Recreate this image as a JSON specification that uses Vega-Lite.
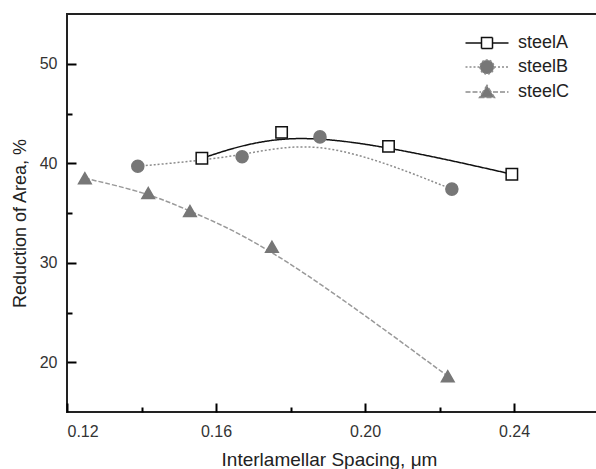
{
  "$schema": "https://vega.github.io/schema/vega-lite/v6.json",
  "autosize": "none",
  "padding": {"left": 67, "top": 14, "right": 0, "bottom": 57},
  "width": 535,
  "height": 398,
  "background": "white",
  "config": {
    "view": {"stroke": "#222", "strokeWidth": 2},
    "font": "Liberation Sans",
    "axis": {
      "grid": false,
      "domain": false,
      "tickColor": "black",
      "tickWidth": 2,
      "labelFont": "Liberation Sans",
      "labelFontSize": 16,
      "labelColor": "#333",
      "titleFont": "Liberation Sans",
      "titleFontSize": 19,
      "titleFontWeight": "normal",
      "titleColor": "#222"
    }
  },
  "data": {
    "values": [
      {"steel": "steelA", "spacing": 0.1562, "ra": 40.5},
      {"steel": "steelA", "spacing": 0.1776, "ra": 43.1},
      {"steel": "steelA", "spacing": 0.2063, "ra": 41.7},
      {"steel": "steelA", "spacing": 0.2394, "ra": 38.9},
      {"steel": "steelB", "spacing": 0.139, "ra": 39.7},
      {"steel": "steelB", "spacing": 0.167, "ra": 40.65},
      {"steel": "steelB", "spacing": 0.1879, "ra": 42.65},
      {"steel": "steelB", "spacing": 0.2233, "ra": 37.4},
      {"steel": "steelC", "spacing": 0.1248, "ra": 38.5},
      {"steel": "steelC", "spacing": 0.1418, "ra": 37.0},
      {"steel": "steelC", "spacing": 0.153, "ra": 35.2},
      {"steel": "steelC", "spacing": 0.175, "ra": 31.6},
      {"steel": "steelC", "spacing": 0.2222, "ra": 18.6}
    ]
  },
  "layer": [
    {
      "mark": {"type": "line", "interpolate": "basis", "strokeWidth": 1.5},
      "encoding": {
        "x": {
          "field": "spacing", "type": "quantitative",
          "scale": {"domain": [0.12, 0.2636], "nice": false, "zero": false},
          "axis": {
            "orient": "bottom",
            "title": "Interlamellar Spacing, μm",
            "values": [0.12, 0.16, 0.2, 0.24],
            "format": ".2f",
            "tickSize": 9,
            "offset": -9,
            "labelPadding": 11,
            "titleX": 262,
            "titleY": 62,
            "titleBaseline": "alphabetic",
            "titleAlign": "center"
          }
        },
        "y": {
          "field": "ra", "type": "quantitative",
          "scale": {"domain": [15, 55], "nice": false, "zero": false},
          "axis": {
            "orient": "left",
            "title": "Reduction of Area, %",
            "titleFontSize": 18,
            "values": [20, 30, 40, 50],
            "tickSize": 9,
            "offset": -9,
            "labelPadding": 10,
            "titleX": -51,
            "titleY": 209,
            "titleAngle": -90,
            "titleBaseline": "alphabetic",
            "titleAlign": "center"
          }
        },
        "detail": {"field": "steel"},
        "stroke": {"field": "steel", "type": "nominal", "legend": null,
          "scale": {"domain": ["steelA", "steelB", "steelC"], "range": ["#111111", "#8c8c8c", "#999999"]}},
        "strokeDash": {"field": "steel", "type": "nominal", "legend": null,
          "scale": {"domain": ["steelA", "steelB", "steelC"], "range": [[1, 0], [2, 2], [5, 2]]}}
      }
    },
    {
      "mark": {"type": "point", "opacity": 1, "strokeWidth": 1.5},
      "encoding": {
        "x": {
          "field": "spacing", "type": "quantitative",
          "axis": {"orient": "bottom", "values": [0.14, 0.18, 0.22], "tickSize": 5, "offset": -5,
            "labels": false, "title": null}
        },
        "y": {
          "field": "ra", "type": "quantitative",
          "axis": {"orient": "left", "values": [25, 35, 45], "tickSize": 5, "offset": -5,
            "labels": false, "title": null}
        },
        "shape": {"field": "steel", "type": "nominal", "legend": null,
          "scale": {"domain": ["steelA", "steelB", "steelC"], "range": ["square", "circle", "triangle-up"]}},
        "size": {"field": "steel", "type": "nominal", "legend": null,
          "scale": {"domain": ["steelA", "steelB", "steelC"], "range": [130, 160, 200]}},
        "fill": {"field": "steel", "type": "nominal", "legend": null,
          "scale": {"domain": ["steelA", "steelB", "steelC"], "range": ["white", "#777777", "#777777"]}},
        "stroke": {"field": "steel", "type": "nominal", "legend": null,
          "scale": {"domain": ["steelA", "steelB", "steelC"], "range": ["#111111", "#777777", "#777777"]}}
      }
    },
    {
      "transform": [{"filter": "false"}],
      "mark": {"type": "point", "opacity": 1, "size": 100, "strokeWidth": 1.5},
      "encoding": {
        "x": {"field": "spacing", "type": "quantitative", "axis": null},
        "y": {"field": "ra", "type": "quantitative", "axis": null},
        "shape": {"field": "steel", "type": "nominal",
          "scale": {"domain": ["steelA", "steelB", "steelC"], "range": [
            "M-4.3,0H-1.1M1.1,0H4.3M-1.1,-1.1H1.1V1.1H-1.1Z",
            "M-4.3,0H-1.4M1.4,0H4.3M-1.4,0A1.4,1.4,0,1,0,1.4,0A1.4,1.4,0,1,0,-1.4,0Z",
            "M-4.3,0H-1.2M1.2,0H4.3M-1.5,1.1L1.5,1.1L0,-1.3Z"
          ]},
          "legend": {
            "title": null, "orient": "none", "legendX": 411, "legendY": 20,
            "padding": 0, "rowPadding": 5, "labelOffset": 22,
            "labelFont": "Liberation Sans", "labelFontSize": 18, "labelColor": "#222",
            "symbolSize": 100, "symbolStrokeWidth": 1.5
          }
        },
        "fill": {"field": "steel", "type": "nominal",
          "scale": {"domain": ["steelA", "steelB", "steelC"], "range": ["white", "#777777", "#777777"]}},
        "stroke": {"field": "steel", "type": "nominal",
          "scale": {"domain": ["steelA", "steelB", "steelC"], "range": ["#111111", "#8c8c8c", "#8c8c8c"]}},
        "strokeDash": {"field": "steel", "type": "nominal",
          "scale": {"domain": ["steelA", "steelB", "steelC"], "range": [[1, 0], [2, 2], [5, 2]]}}
      }
    }
  ],
  "resolve": {
    "scale": {"shape": "independent", "fill": "independent", "stroke": "independent", "strokeDash": "independent", "size": "independent"},
    "axis": {"x": "independent", "y": "independent"}
  }
}
